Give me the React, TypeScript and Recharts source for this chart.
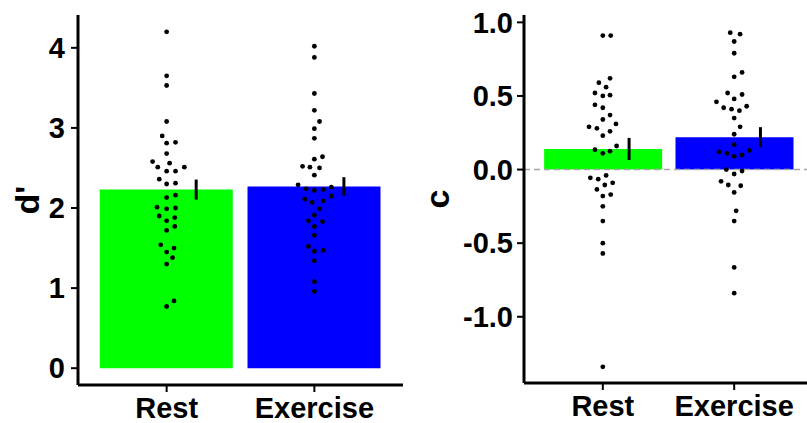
import React from "react";
import { ComposedChart, Bar, Cell, Scatter, ErrorBar, XAxis, YAxis, ReferenceLine } from "recharts";

const conditions = ["Rest", "Exercise"];
const barColors = ["#00FF00", "#0000FF"];

const dPrimeMeans = [2.23, 2.27];
const dPrimeSE = [0.125, 0.115];
const criterionMeans = [0.14, 0.22];
const criterionSE = [0.075, 0.068];

// one entry per participant: [value, horizontal jitter in category units]
const restDPrime: [number, number][] = [
  [4.2, 0], [3.65, 0], [3.53, 0], [3.08, 0], [2.9, -0.03], [2.81, 0], [2.82, 0.06], [2.68, 0],
  [2.58, -0.095], [2.56, 0.02], [2.51, -0.06], [2.46, 0], [2.46, 0.06], [2.51, 0.12], [2.36, -0.05],
  [2.3, 0], [2.31, 0.06], [2.13, 0], [2.16, 0.06], [2.01, -0.065], [1.99, 0], [2.0, 0.06],
  [1.9, -0.05], [1.84, 0], [1.88, 0.055], [1.72, 0], [1.77, 0.055], [1.54, -0.04], [1.5, 0.05],
  [1.45, 0], [1.38, 0.04], [1.3, 0], [0.84, 0.05], [0.77, 0],
];
const exerciseDPrime: [number, number][] = [
  [4.02, 0], [3.88, 0], [3.43, 0], [3.22, 0], [3.08, 0.035], [2.99, 0], [2.87, 0], [2.64, 0.055],
  [2.61, 0], [2.52, -0.08], [2.51, -0.03], [2.5, 0.035], [2.41, 0], [2.29, -0.11], [2.24, -0.055],
  [2.22, 0], [2.23, 0.06], [2.26, 0.115], [2.11, -0.065], [2.07, -0.015], [2.09, 0.06], [2.15, 0.115],
  [1.99, 0.035], [1.91, 0], [1.84, -0.04], [1.83, 0.055], [1.77, 0], [1.66, 0], [1.52, -0.04],
  [1.46, 0], [1.47, 0.06], [1.34, 0], [1.08, 0], [0.96, 0],
];
const restCriterion: [number, number][] = [
  [0.91, 0], [0.91, 0.06], [0.62, 0.055], [0.59, -0.03], [0.56, 0.025], [0.52, -0.06], [0.5, 0],
  [0.505, 0.055], [0.44, -0.06], [0.42, 0], [0.37, 0.055], [0.34, 0], [0.29, -0.105], [0.28, -0.045],
  [0.26, 0.055], [0.31, 0.1], [0.23, 0], [0.135, -0.06], [0.11, 0], [0.125, 0.055], [0.16, 0.105],
  [-0.056, -0.095], [-0.065, -0.035], [-0.04, 0.025], [-0.135, -0.045], [-0.105, 0.015],
  [-0.09, 0.075], [-0.18, 0], [-0.17, 0.06], [-0.25, 0], [-0.35, 0], [-0.5, 0], [-0.57, 0], [-1.34, 0],
];
const exerciseCriterion: [number, number][] = [
  [0.93, -0.03], [0.92, 0.045], [0.87, 0], [0.79, 0], [0.63, 0], [0.66, 0.06], [0.52, -0.05],
  [0.51, 0.06], [0.48, 0], [0.46, -0.135], [0.42, -0.08], [0.41, -0.02], [0.4, 0.04], [0.43, 0.095],
  [0.35, 0], [0.29, 0.045], [0.24, 0], [0.17, 0], [0.12, -0.115], [0.11, -0.055], [0.09, 0],
  [0.1, 0.06], [0.13, 0.115], [0, -0.06], [-0.03, 0], [-0.01, 0.06], [-0.08, -0.1], [-0.105, -0.045],
  [-0.11, 0.05], [-0.155, 0], [-0.28, 0.015], [-0.35, 0], [-0.665, 0], [-0.84, 0],
];

const dPrimeTicks = [0, 1, 2, 3, 4];
const criterionTicks = [-1, -0.5, 0, 0.5, 1];

const FONT = "'Liberation Sans', Arial, sans-serif";
const tickStyle = { fill: "#000", fontSize: 29, fontWeight: 700, fontFamily: FONT };

const CHART_W = 410;
const MARGIN = { top: 15, right: 7, left: 0, bottom: 0 };

const dotRows = (groups: [number, number][][]) =>
  groups.flatMap((pts, g) => pts.map(([v, j]) => ({ x: g + 1 + j, y: v })));

const Dot = (p: any) => <circle cx={p.cx} cy={p.cy} r={2.4} fill="#000" />;
const Nothing = () => <g />;

const AxisTitle = (props: any) => {
  const { viewBox, text, cx } = props;
  const cy = viewBox.y + viewBox.height / 2;
  return (
    <text
      x={cx}
      y={cy}
      transform={`rotate(-90, ${cx}, ${cy})`}
      textAnchor="middle"
      dominantBaseline="central"
      fontSize={34}
      fontWeight={700}
      fontFamily={FONT}
      fill="#000"
    >
      {text}
    </text>
  );
};

type PanelProps = {
  title: string;
  means: number[];
  se: number[];
  groups: [number, number][][];
  domain: [number, number];
  ticks: number[];
  fmt: (v: number) => string;
  yWidth: number;
  xHeight: number;
  barSize: number;
  tickGap: number;
  zeroLine?: boolean;
};

const Panel = (props: PanelProps) => {
  const bars = props.means.map((m, i) => ({ name: conditions[i], mean: m }));
  const errs = props.means.map((m, i) => ({ x: i + 1.2, y: m, err: props.se[i] }));
  // ggplot-like discrete expansion: 0.6 of a band on each side
  const plotW = CHART_W - MARGIN.left - MARGIN.right - props.yWidth;
  const pad = (plotW * 0.1) / 2.2;
  return (
    <ComposedChart width={CHART_W} height={423} data={bars} margin={MARGIN}>
      <XAxis
        xAxisId="cat"
        dataKey="name"
        type="category"
        padding={{ left: pad, right: pad }}
        height={props.xHeight}
        axisLine={{ stroke: "#000", strokeWidth: 3 }}
        tickLine={{ stroke: "#000", strokeWidth: 2 }}
        tickSize={7}
        tickMargin={5}
        tick={tickStyle}
      />
      <XAxis xAxisId="num" dataKey="x" type="number" domain={[0.4, 2.6]} hide allowDataOverflow />
      <YAxis
        type="number"
        domain={props.domain}
        ticks={props.ticks}
        tickFormatter={props.fmt}
        width={props.yWidth}
        axisLine={{ stroke: "#000", strokeWidth: 3 }}
        tickLine={{ stroke: "#000", strokeWidth: 2 }}
        tickSize={7}
        tickMargin={props.tickGap}
        tick={tickStyle}
        allowDataOverflow
        label={<AxisTitle text={props.title} cx={27} />}
      />
      <Bar xAxisId="cat" dataKey="mean" barSize={props.barSize} isAnimationActive={false}>
        {bars.map((_, i) => (
          <Cell key={i} fill={barColors[i]} />
        ))}
      </Bar>
      {props.zeroLine && (
        <ReferenceLine xAxisId="cat" y={0} stroke="#A6A6A6" strokeWidth={1.6} strokeDasharray="6 4" />
      )}
      <Scatter xAxisId="num" data={dotRows(props.groups)} dataKey="y" shape={Dot} isAnimationActive={false} />
      <Scatter xAxisId="num" data={errs} dataKey="y" shape={Nothing} isAnimationActive={false}>
        <ErrorBar dataKey="err" direction="y" width={0} stroke="#000" strokeWidth={3} />
      </Scatter>
    </ComposedChart>
  );
};

export default function App() {
  return (
    <div
      style={{
        position: "absolute",
        left: 0,
        top: 0,
        width: 807,
        height: 423,
        overflow: "hidden",
        background: "#fff",
      }}
    >
      <div style={{ position: "absolute", left: 0, top: 0 }}>
        <Panel
          title="d'"
          means={dPrimeMeans}
          se={dPrimeSE}
          groups={[restDPrime, exerciseDPrime]}
          domain={[-0.21, 4.41]}
          ticks={dPrimeTicks}
          fmt={(v) => String(v)}
          yWidth={78}
          xHeight={38}
          barSize={133}
          tickGap={6}
        />
      </div>
      <div style={{ position: "absolute", left: 410, top: 0 }}>
        <Panel
          title="c"
          means={criterionMeans}
          se={criterionSE}
          groups={[restCriterion, exerciseCriterion]}
          domain={[-1.45, 1.05]}
          ticks={criterionTicks}
          fmt={(v) => v.toFixed(1)}
          yWidth={114}
          xHeight={40}
          barSize={118}
          tickGap={4}
          zeroLine
        />
      </div>
    </div>
  );
}
